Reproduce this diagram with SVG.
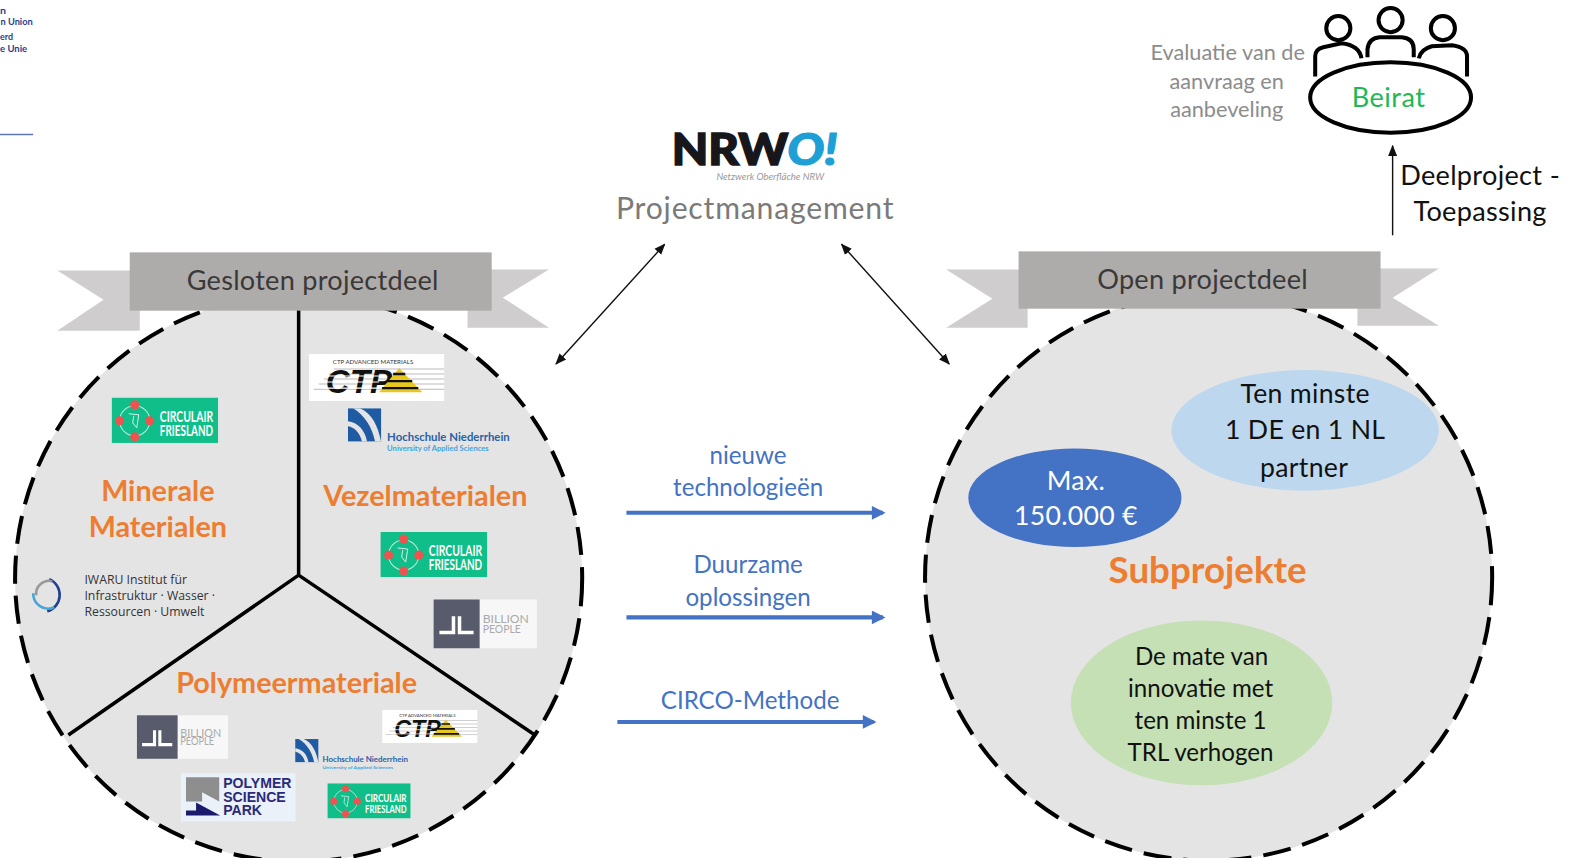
<svg xmlns="http://www.w3.org/2000/svg" width="1577" height="858" viewBox="0 0 1577 858">
<style>
text{font-family:"Lato","Liberation Sans",sans-serif}
.iw{font-family:"Open Sans","Liberation Sans",sans-serif;font-size:12.2px;fill:#333}
.disc{fill:#E4E4E4;stroke:#000;stroke-width:4;stroke-dasharray:28 12}
.band{fill:#AEABAB}.tail{fill:#CFCDCE}
.ttl{font-size:27px;fill:#3B3838;text-anchor:middle;letter-spacing:.25px}
.or{font-size:28.6px;font-weight:700;fill:#ED7D31;text-anchor:middle}
.bl{font-size:24px;fill:#4472C4;text-anchor:middle}
.blk{font-size:26.5px;fill:#111;text-anchor:middle;letter-spacing:.3px}
.mid{font-size:24px;fill:#111;text-anchor:middle}
.gr{font-size:21.6px;fill:#8c8c8c;text-anchor:middle}
.div{stroke:#000;stroke-width:3.5;fill:none}
.thin{stroke:#111;stroke-width:1.4;fill:none}
.barr{stroke:#4472C4;stroke-width:4;fill:none;marker-end:url(#ab)}
.ppl{fill:none;stroke:#000;stroke-width:4}
</style>
<defs>
<marker id="ab" viewBox="0 0 10 10" refX="8" refY="5" markerWidth="4" markerHeight="3.4" orient="auto"><path d="M0 0L10 5L0 10z" fill="#4472C4"/></marker>
<marker id="ak" viewBox="0 0 10 10" refX="9" refY="5" markerWidth="8" markerHeight="8" orient="auto-start-reverse"><path d="M0 1L10 5L0 9z" fill="#111"/></marker>
<symbol id="circ" viewBox="0 0 106 45">
<rect width="106" height="45" fill="#0FBE88"/>
<circle cx="23" cy="23" r="15" fill="none" stroke="#bdeedd" stroke-width="1"/>
<path d="M17 16L27 17L25 30L21 25L22 18" fill="none" stroke="#fff" stroke-width=".8"/>
<g fill="#F0524F"><circle cx="23" cy="7" r="4.5"/><circle cx="23" cy="39" r="4.5"/><circle cx="8" cy="23" r="4.5"/><circle cx="38" cy="23" r="4.5"/></g>
<text x="48" y="24" font-size="15" font-weight="700" fill="#fff" textLength="53" lengthAdjust="spacingAndGlyphs">CIRCULAIR</text>
<text x="48" y="38" font-size="15" font-weight="700" fill="#fff" textLength="53" lengthAdjust="spacingAndGlyphs">FRIESLAND</text>
</symbol>
<symbol id="ctp" viewBox="0 0 135 47">
<rect width="135" height="47" fill="#fff"/>
<text x="64" y="10" text-anchor="middle" font-size="6" fill="#333" textLength="80" lengthAdjust="spacingAndGlyphs">CTP ADVANCED MATERIALS</text>
<g stroke="#bbb" stroke-width="1"><path d="M25 15H135M20 20H135M15 25H135M10 30H135M5 35H135"/></g>
<text x="50" y="39" text-anchor="middle" font-size="33" font-weight="700" font-style="italic" fill="#111" textLength="66" lengthAdjust="spacingAndGlyphs" style="font-family:'Liberation Sans',sans-serif">CTP</text>
<path d="M70 38L113 38L90 14z" fill="#E8C81E"/>
<path d="M84 20H96M78 27H103M73 34H109" stroke="#111" stroke-width="2.4"/>
<path d="M10 22H70M5 28H70M12 34H70" stroke="#fff" stroke-width="1"/>
</symbol>
<symbol id="hn" viewBox="0 0 162 46">
<rect width="33" height="33" fill="#1F5BA3"/>
<path d="M12 0C24 5 30 18 33 33H27C24 19 17 7 5 0z" fill="#E4E4E4"/>
<path d="M0 13C10 14 17 22 19 33H14C12 25 7 19 0 18z" fill="#E4E4E4"/>
<text x="39" y="33" font-size="11.5" font-weight="700" fill="#2A5FA5" textLength="122" lengthAdjust="spacingAndGlyphs">Hochschule Niederrhein</text>
<text x="39" y="43" font-size="6.5" font-weight="700" fill="#3FA5E0" textLength="101" lengthAdjust="spacingAndGlyphs">University of Applied Sciences</text>
</symbol>
<symbol id="bp" viewBox="0 0 103 49">
<rect width="103" height="49" fill="#F7F7F7"/>
<rect width="46" height="49" fill="#575B6B"/>
<path d="M6 33H20V17M40 33H26V17" fill="none" stroke="#fff" stroke-width="3.5"/>
<text x="49" y="24" font-size="12" fill="#aaa" textLength="46" lengthAdjust="spacingAndGlyphs">BILLION</text>
<text x="49" y="34" font-size="12" fill="#aaa" textLength="38" lengthAdjust="spacingAndGlyphs">PEOPLE</text>
</symbol>
</defs>

<g transform="scale(1.0055)">
<g id="eu-logo-fragment" fill="#1F3F8F" font-size="10" font-weight="700">
<text x="0" y="14" textLength="6" lengthAdjust="spacingAndGlyphs">n</text>
<text x="0.5" y="25" textLength="32" lengthAdjust="spacingAndGlyphs">n Union</text>
<text x="0" y="40" textLength="13" lengthAdjust="spacingAndGlyphs">erd</text>
<text x="0" y="52" textLength="27" lengthAdjust="spacingAndGlyphs">e Unie</text>
<rect x="0" y="133" width="33" height="1.5" fill="#5C78BE"/>
</g>

<g id="node-gesloten">
<polygon class="tail" points="57,269 139,269 139,329 57,329 103,298"/>
<polygon class="tail" points="546,268 465,268 465,326 546,326 500,296"/>
<circle class="disc" cx="297" cy="575" r="282"/>
<path class="div" d="M297 300V572M297 572L68 731M297 572L532 731"/>
<rect class="band" x="129" y="251" width="360" height="58"/>
<text class="ttl" x="311" y="288">Gesloten projectdeel</text>
<text class="or" x="157" y="498">Minerale</text>
<text class="or" x="157" y="534">Materialen</text>
<text class="or" x="423" y="503">Vezelmaterialen</text>
<text class="or" x="295" y="689">Polymeermateriale</text>
<use href="#circ" x="111" y="395" width="106" height="46"/>
<use href="#ctp" x="307" y="352" width="135" height="47"/>
<use href="#hn" x="346" y="406" width="162" height="46"/>
<use href="#circ" x="378" y="529" width="107" height="45"/>
<use href="#bp" x="431" y="596" width="103" height="49"/>
<g id="iwaru">
<g fill="none" stroke-width="2.6" transform="translate(2 0)">
<path d="M47 576A17 17 0 0 1 45 608" stroke="#1F3F8F"/>
<path d="M31 590A15 15 0 0 0 52 604" stroke="#46A6D8"/>
<path d="M34 592A13 13 0 0 1 50 578" stroke="#999"/>
</g>
<text class="iw" x="84" y="581">IWARU Institut für</text><text class="iw" x="84" y="597">Infrastruktur · Wasser ·</text><text class="iw" x="84" y="613">Ressourcen · Umwelt</text>
</g>
<use href="#bp" x="136" y="711" width="91" height="44"/>
<use href="#ctp" x="380" y="706" width="95" height="33"/>
<use href="#hn" x="291" y="735" width="118" height="32"/>
<g id="psp" transform="translate(180 769)">
<rect width="114" height="48" fill="#EAF1F9"/>
<path d="M5 4H38V28L21 19V28H5z" fill="#8E8E8E"/>
<path d="M5 42H39L15 29V37H5z" fill="#1B1B6E"/>
<text y="15" font-size="14" font-weight="700" fill="#2B2A77" style="font-family:'Liberation Sans',sans-serif"><tspan x="42">POLYMER</tspan><tspan x="42" dy="13.5">SCIENCE</tspan><tspan x="42" dy="13.5">PARK</tspan></text>
</g>
<use href="#circ" x="325" y="779" width="84" height="35"/>
</g>

<g id="node-open">
<polygon class="tail" points="941,268 1022,268 1022,326 941,326 987,297"/>
<polygon class="tail" points="1431,267 1350,267 1350,324 1431,324 1385,296"/>
<circle class="disc" cx="1202" cy="574" r="282"/>
<rect class="band" x="1013" y="250" width="360" height="57"/>
<text class="ttl" x="1196" y="287">Open projectdeel</text>
</g>
<g id="node-partner"><ellipse cx="1298" cy="428" rx="133" ry="60" fill="#BDD7EE"/>
<text class="blk" x="1298" y="401">Ten minste</text><text class="blk" x="1298" y="437">1 DE en 1 NL</text><text class="blk" x="1297" y="474">partner</text></g>
<g id="node-budget"><ellipse cx="1069" cy="495" rx="106" ry="49" fill="#4472C4"/>
<text class="blk" x="1070" y="487" style="fill:#fff">Max.</text><text class="blk" x="1070" y="522" style="fill:#fff">150.000 €</text></g>
<text id="label-subprojekte" x="1201" y="580" text-anchor="middle" font-size="36.5" font-weight="700" fill="#ED7D31">Subprojekte</text>
<g id="node-trl"><ellipse cx="1195" cy="699" rx="130" ry="82" fill="#C5E0B4"/>
<text class="mid" x="1195" y="661">De mate van</text><text class="mid" x="1194" y="693">innovatie met</text><text class="mid" x="1194" y="725">ten minste 1</text><text class="mid" x="1194" y="757">TRL verhogen</text></g>

<g id="node-nrwo">
<text x="726" y="164" text-anchor="middle" font-size="44" font-weight="900" fill="#17171B" stroke="#17171B" stroke-width="1.5" textLength="116" lengthAdjust="spacingAndGlyphs">NRW</text>
<text x="808" y="164" text-anchor="middle" font-size="44" font-weight="900" font-style="italic" fill="#1E9FD6" stroke="#1E9FD6" stroke-width="1.2" textLength="50" lengthAdjust="spacingAndGlyphs">O!</text>
<text x="766" y="179" text-anchor="middle" font-size="9.5" font-style="italic" fill="#999">Netzwerk Oberfläche NRW</text>
<text x="751" y="218" text-anchor="middle" font-size="30" letter-spacing=".8" fill="#7a7a7a">Projectmanagement</text>
</g>

<g id="node-beirat">
<circle class="ppl" cx="1331" cy="28" r="12"/><circle class="ppl" cx="1383" cy="20" r="12"/><circle class="ppl" cx="1435" cy="28" r="12"/>
<path class="ppl" d="M1308 76V56Q1308 49 1316 47L1334 43Q1352 45 1354 58M1360 57V49Q1361 38 1372 37H1394Q1406 38 1406 49V57M1411 58Q1413 49 1424 46L1444 45Q1459 47 1459 56V76"/>
<ellipse cx="1383" cy="97" rx="80" ry="35" fill="#fff" stroke="#000" stroke-width="4"/>
<text x="1381" y="106" text-anchor="middle" font-size="27" letter-spacing=".5" fill="#1DB954">Beirat</text>
<text class="gr" x="1221" y="60">Evaluatie van de</text><text class="gr" x="1220" y="89">aanvraag en</text><text class="gr" x="1220" y="116">aanbeveling</text>
<text class="blk" x="1472" y="184" style="font-size:27px">Deelproject -</text><text class="blk" x="1472" y="220" style="font-size:27px">Toepassing</text>
</g>

<g id="flow-labels">
<text class="bl" x="744" y="461">nieuwe</text><text class="bl" x="744" y="493">technologieën</text>
<text class="bl" x="744" y="570">Duurzame</text><text class="bl" x="744" y="603">oplossingen</text>
<text class="bl" x="746" y="705">CIRCO-Methode</text>
</g>

<g id="connectors">
<path class="barr" d="M623 510H878"/>
<path class="barr" d="M623 614H878"/>
<path class="barr" d="M614 718H869"/>
<path class="thin" d="M553 362L661 243" marker-start="url(#ak)" marker-end="url(#ak)"/>
<path class="thin" d="M837 243L944 362" marker-start="url(#ak)" marker-end="url(#ak)"/>
<path class="thin" d="M1385 234V145" marker-end="url(#ak)"/>
</g>
</g>
</svg>
